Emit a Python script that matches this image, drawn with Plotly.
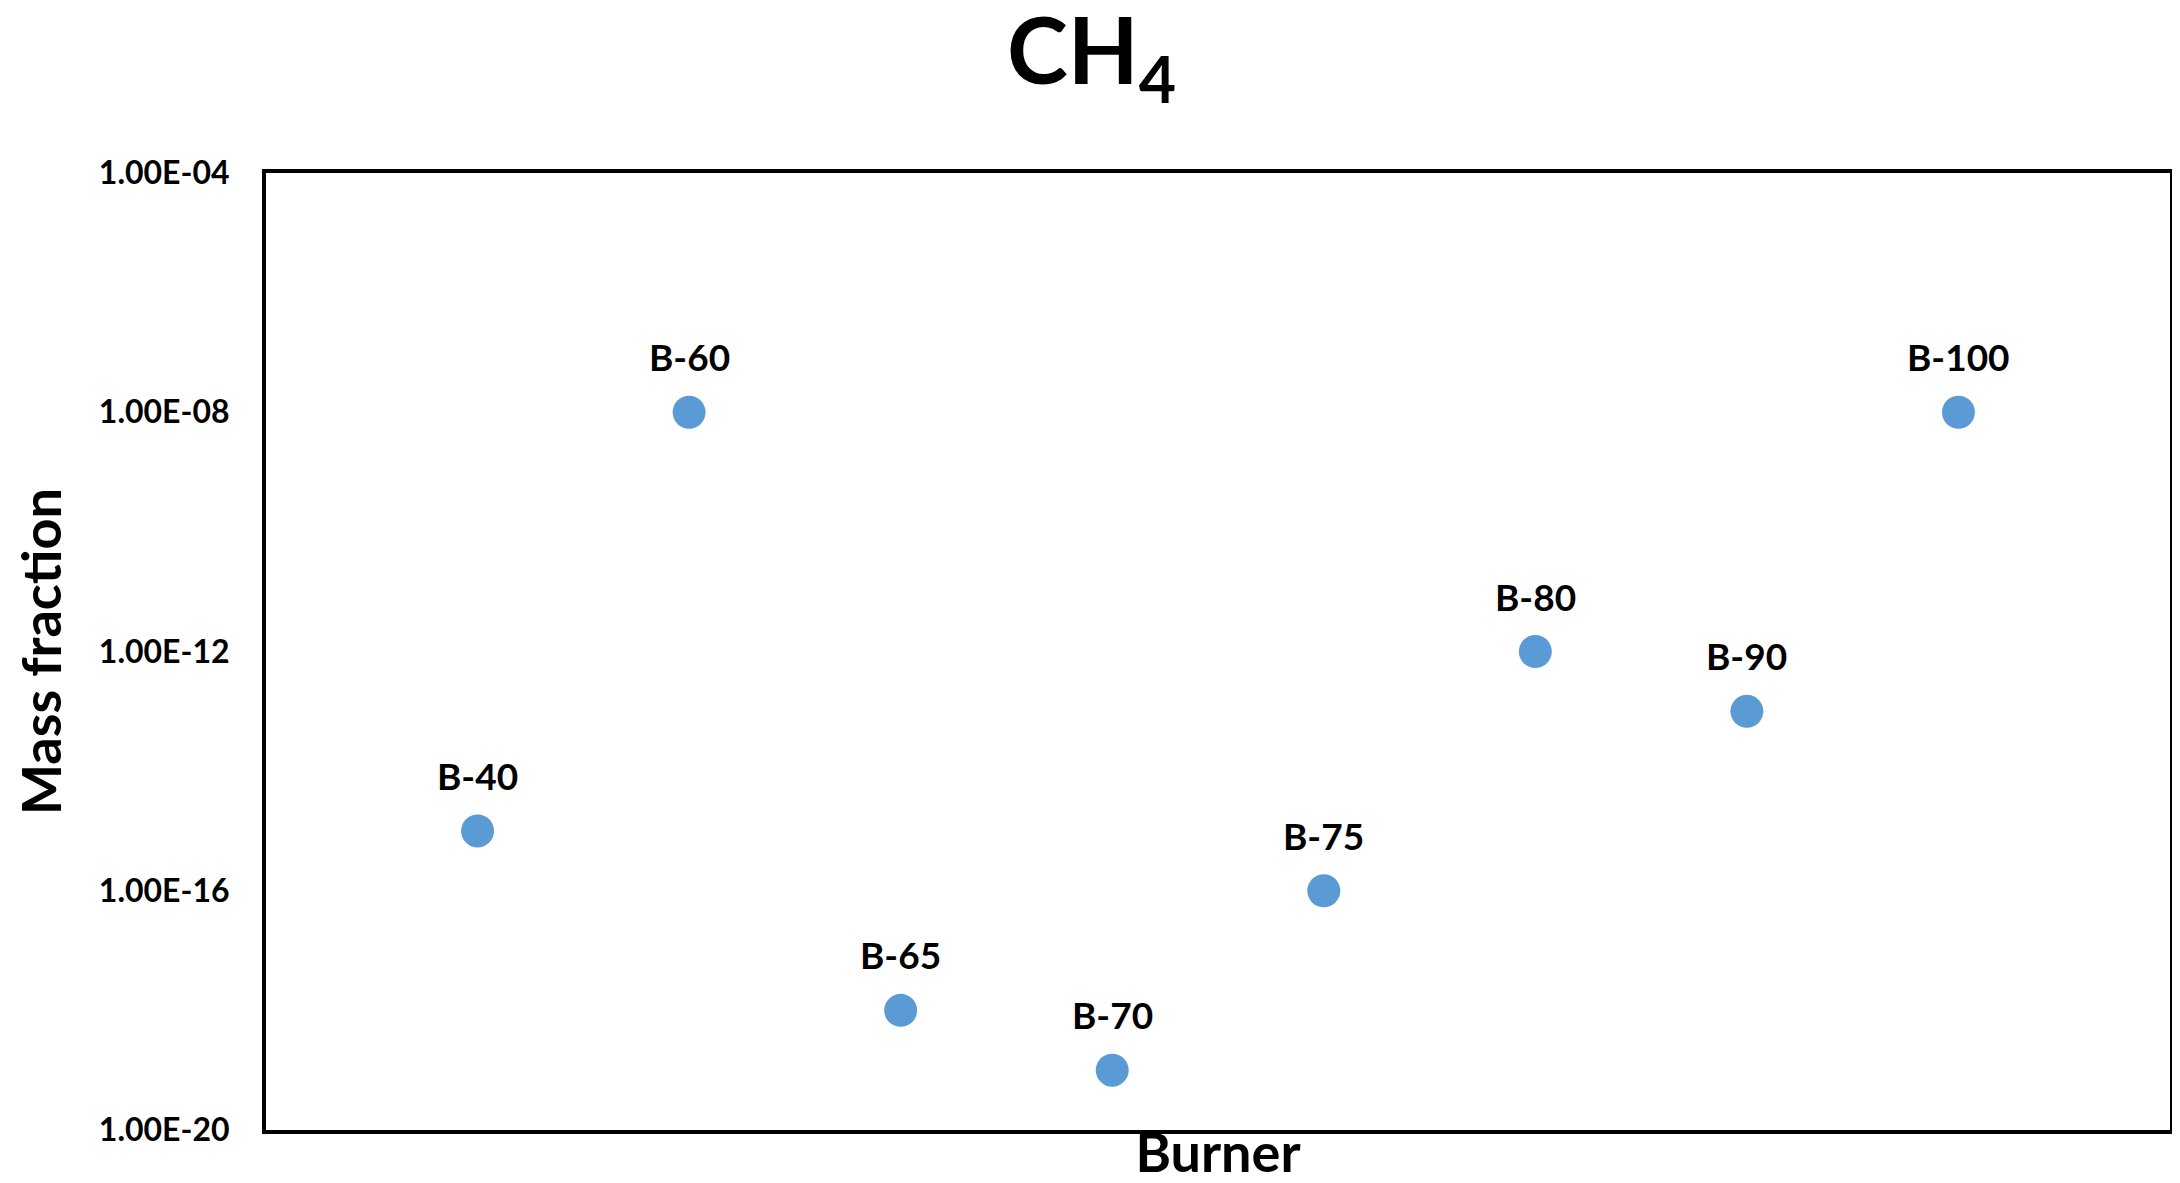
import plotly.graph_objects as go
import math

burners = ["B-40", "B-60", "B-65", "B-70", "B-75", "B-80", "B-90", "B-100"]
x_pos = [1, 2, 3, 4, 5, 6, 7, 8]
mass_fraction = [1e-15, 1e-8, 1e-18, 1e-19, 1e-16, 1e-12, 1e-13, 1e-8]
tick_vals = [1e-20, 1e-16, 1e-12, 1e-8, 1e-4]
tick_text = ["1.00E-20", "1.00E-16", "1.00E-12", "1.00E-08", "1.00E-04"]

FONT = "Lato"
PAGE_OFF = 8  # default body margin of the html page

fig = go.Figure()
fig.add_trace(go.Scatter(
    x=x_pos, y=mass_fraction, mode="markers",
    marker=dict(size=33, color="#5B9BD5"),
    showlegend=False, hoverinfo="text", text=burners,
))

for xv, yv, lab in zip(x_pos, mass_fraction, burners):
    fig.add_annotation(x=xv, y=math.log10(yv), text=f"<b>{lab}</b>",
                       showarrow=False, yanchor="bottom", yshift=31,
                       font=dict(family=FONT, size=37, color="black"))

fig.update_layout(
    width=2180, height=1183,
    paper_bgcolor="white", plot_bgcolor="white",
    margin=dict(l=266 - PAGE_OFF, r=10 + PAGE_OFF, t=173 - PAGE_OFF, b=53 + PAGE_OFF),
    title=dict(text="<b>CH<sub>4</sub></b>", x=0.497, xanchor="center",
               y=0.963, yanchor="middle",
               font=dict(family=FONT, size=92, color="black")),
    xaxis=dict(range=[0, 9], showticklabels=False, ticks="", showgrid=False,
               zeroline=False, showline=True, linecolor="black", linewidth=4,
               mirror=True, automargin=False,
               title=dict(text="<b>Burner</b>", standoff=2,
                          font=dict(family=FONT, size=54, color="black"))),
    yaxis=dict(type="log", range=[-20, -4], tickvals=tick_vals,
               ticktext=[f"<b>{t}</b>" for t in tick_text],
               ticks="", showgrid=False, zeroline=False, showline=True,
               linecolor="black", linewidth=4, mirror=True, automargin=False,
               ticklabelstandoff=26,
               tickfont=dict(family=FONT, size=32, color="black"),
               title=dict(text="<b>Mass fraction</b>", standoff=59,
                          font=dict(family=FONT, size=54, color="black"))),
)

fig.write_html("out.html")
